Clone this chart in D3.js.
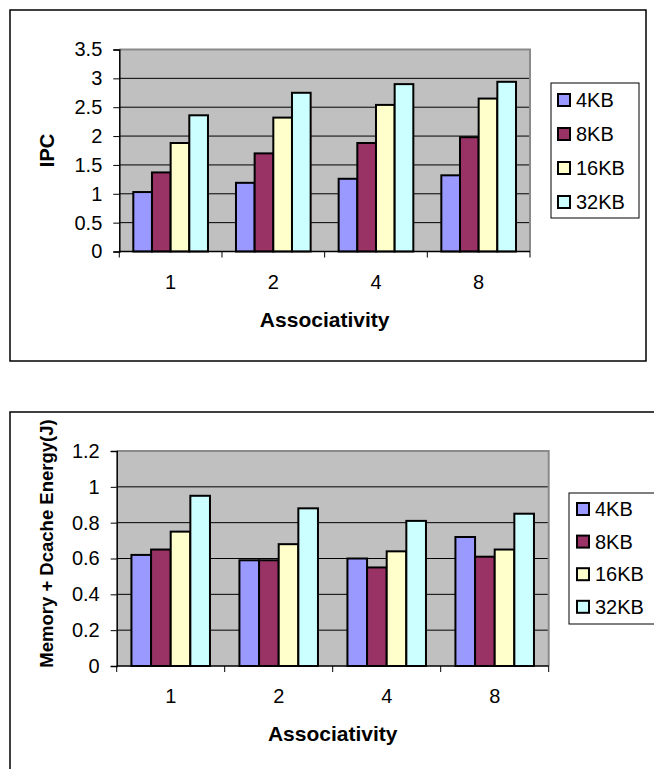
<!DOCTYPE html>
<html>
<head>
<meta charset="utf-8">
<script src="https://cdn.jsdelivr.net/npm/d3@7"></script>
<style>
  body { margin: 0; background: #fff; }
  svg text { font-family: Arial, "Liberation Sans", sans-serif; fill: #000; }
</style>
</head>
<body>
<div id="main"></div>
<script>
// data
var categories = ["1", "2", "4", "8"];
var seriesNames = ["4KB", "8KB", "16KB", "32KB"];
var seriesColors = ["#9999FF", "#993366", "#FFFFCC", "#CCFFFF"];

var ipc4KB  = [1.03, 1.19, 1.26, 1.32];
var ipc8KB  = [1.37, 1.70, 1.88, 1.98];
var ipc16KB = [1.88, 2.32, 2.54, 2.65];
var ipc32KB = [2.36, 2.75, 2.90, 2.94];
var ipcTicks = [0, 0.5, 1, 1.5, 2, 2.5, 3, 3.5];

var energy4KB  = [0.62, 0.59, 0.60, 0.72];
var energy8KB  = [0.65, 0.59, 0.55, 0.61];
var energy16KB = [0.75, 0.68, 0.64, 0.65];
var energy32KB = [0.95, 0.88, 0.81, 0.85];
var energyTicks = [0, 0.2, 0.4, 0.6, 0.8, 1, 1.2];

var svg = d3.select("#main")
  .append("svg")
  .attr("width", 654)
  .attr("height", 769);

function drawChart(cfg) {
  var g = svg.append("g");

  // outer chart frame
  g.append("rect")
    .attr("x", cfg.frame[0]).attr("y", cfg.frame[1])
    .attr("width", cfg.frame[2]).attr("height", cfg.frame[3])
    .attr("fill", "#fff").attr("stroke", "#000").attr("stroke-width", 1.5);

  var xScale = d3.scaleBand()
    .domain(categories)
    .range([cfg.left, cfg.right]);

  var bw = xScale.bandwidth() / 5.5;   // excel gap width 150%
  var xInner = d3.scaleBand()
    .domain(seriesNames)
    .range([bw * 0.75, xScale.bandwidth() - bw * 0.75]);

  var yScale = d3.scaleLinear()
    .domain([0, cfg.ticks[cfg.ticks.length - 1]])
    .range([cfg.bottom, cfg.top]);

  // plot area
  g.append("rect")
    .attr("x", cfg.left).attr("y", cfg.top)
    .attr("width", cfg.right - cfg.left).attr("height", cfg.bottom - cfg.top)
    .attr("fill", "#C0C0C0");

  g.append("g").selectAll("line")
    .data(cfg.ticks.slice(1, -1))
    .enter().append("line")
    .attr("x1", cfg.left).attr("x2", cfg.right)
    .attr("y1", function(d) { return yScale(d); })
    .attr("y2", function(d) { return yScale(d); })
    .attr("stroke", "#000").attr("stroke-width", 1);

  // gray border top/right of plot
  g.append("path")
    .attr("d", "M" + cfg.left + "," + cfg.top + "H" + cfg.right + "V" + cfg.bottom)
    .attr("fill", "none").attr("stroke", "#8a8a8a").attr("stroke-width", 2);

  // bars
  var rows = [];
  cfg.values.forEach(function(vals, si) {
    vals.forEach(function(v, ci) {
      rows.push({ cat: categories[ci], series: seriesNames[si], color: seriesColors[si], value: v });
    });
  });

  g.append("g").selectAll("rect")
    .data(rows)
    .enter().append("rect")
    .attr("x", function(d) { return xScale(d.cat) + xInner(d.series); })
    .attr("y", function(d) { return yScale(d.value); })
    .attr("width", xInner.bandwidth())
    .attr("height", function(d) { return cfg.bottom - yScale(d.value); })
    .attr("fill", function(d) { return d.color; })
    .attr("stroke", "#000").attr("stroke-width", 2);

  // y axis
  var yAxis = g.append("g")
    .attr("transform", "translate(" + cfg.left + ",0)")
    .call(d3.axisLeft(yScale).tickValues(cfg.ticks).tickSize(6).tickPadding(11).tickFormat(function(d) { return d; }));
  yAxis.selectAll("text").style("font-size", "20px");

  // x axis with ticks between categories
  var xAxis = g.append("g")
    .attr("transform", "translate(0," + cfg.bottom + ")");
  xAxis.append("line")
    .attr("x1", cfg.left).attr("x2", cfg.right)
    .attr("stroke", "#000").attr("stroke-width", 1.5);
  xAxis.selectAll(".sep")
    .data(categories.concat(["end"]))
    .enter().append("line")
    .attr("x1", function(d, i) { return i < categories.length ? xScale(d) : cfg.right; })
    .attr("x2", function(d, i) { return i < categories.length ? xScale(d) : cfg.right; })
    .attr("y1", 0).attr("y2", 6)
    .attr("stroke", "#000");
  xAxis.selectAll(".lab")
    .data(categories)
    .enter().append("text")
    .attr("x", function(d) { return xScale(d) + xScale.bandwidth() / 2; })
    .attr("y", 37)
    .attr("text-anchor", "middle")
    .style("font-size", "20px")
    .text(function(d) { return d; });

  g.selectAll(".domain").attr("stroke", "#000").attr("stroke-width", 1.5);

  // axis titles
  g.append("text")
    .attr("x", (cfg.left + cfg.right) / 2).attr("y", cfg.bottom + 75)
    .attr("text-anchor", "middle")
    .style("font-size", "21px").style("font-weight", "bold")
    .text("Associativity");

  g.append("text")
    .attr("transform", "translate(" + cfg.yTitle[0] + "," + cfg.yTitle[1] + ")rotate(-90)")
    .attr("text-anchor", "middle")
    .style("font-size", cfg.yTitleSize).style("font-weight", "bold")
    .text(cfg.yLabel);

  // legend
  var lg = cfg.legend;
  g.append("rect")
    .attr("x", lg.x).attr("y", lg.y).attr("width", lg.w).attr("height", lg.h)
    .attr("fill", "#fff").attr("stroke", "#000").attr("stroke-width", 1);

  var item = g.append("g").selectAll("g")
    .data(seriesNames)
    .enter().append("g")
    .attr("transform", function(d, i) { return "translate(" + (lg.x + lg.pad) + "," + (lg.first + i * lg.step) + ")"; });
  item.append("rect")
    .attr("x", 0).attr("y", -6).attr("width", 12).attr("height", 12)
    .attr("fill", function(d, i) { return seriesColors[i]; })
    .attr("stroke", "#000").attr("stroke-width", 2);
  item.append("text")
    .attr("x", 18).attr("y", 7)
    .style("font-size", "20px")
    .text(function(d) { return d; });
}

drawChart({
  frame: [10, 10, 636, 351],
  left: 119.3, right: 530, top: 49.5, bottom: 251.5,
  ticks: ipcTicks,
  values: [ipc4KB, ipc8KB, ipc16KB, ipc32KB],
  yLabel: "IPC", yTitle: [54, 150.5], yTitleSize: "20px",
  legend: { x: 551, y: 83, w: 88, h: 135, pad: 7, first: 100, step: 34 }
});

drawChart({
  frame: [10, 412, 660, 370],
  left: 116.7, right: 548.7, top: 451, bottom: 666,
  ticks: energyTicks,
  values: [energy4KB, energy8KB, energy16KB, energy32KB],
  yLabel: "Memory + Dcache Energy(J)", yTitle: [53, 543.5], yTitleSize: "18.5px",
  legend: { x: 569, y: 493, w: 100, h: 131, pad: 8, first: 509, step: 32.6 }
});
</script>
</body>
</html>
